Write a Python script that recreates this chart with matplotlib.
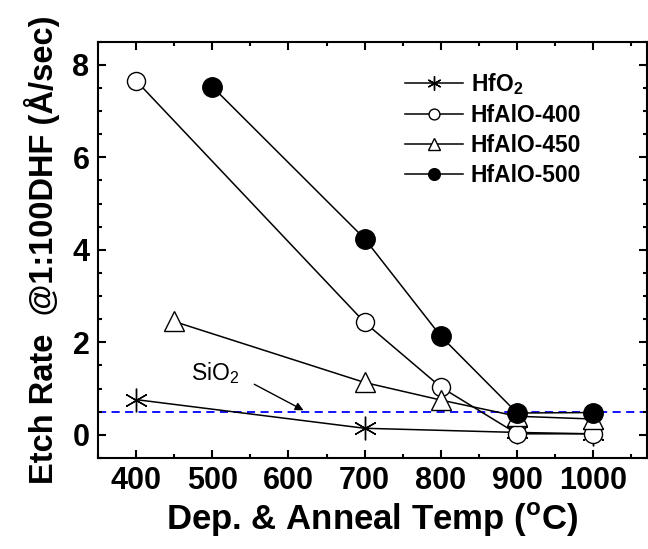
import matplotlib
matplotlib.use("Agg")
import matplotlib.pyplot as plt
from matplotlib.ticker import MultipleLocator

plt.rcParams['font.family'] = ['Liberation Sans', 'DejaVu Sans']
plt.rcParams['mathtext.fontset'] = 'custom'
plt.rcParams['mathtext.rm'] = 'Liberation Sans'
plt.rcParams['mathtext.bf'] = 'Liberation Sans:bold'

# data
temp_hfo2 = [400, 700, 900, 1000]
rate_hfo2 = [0.76, 0.14, 0.05, 0.02]

temp_400 = [400, 700, 800, 900, 1000]
rate_400 = [7.66, 2.43, 1.03, 0.02, 0.02]

temp_450 = [450, 700, 800, 900, 1000]
rate_450 = [2.45, 1.13, 0.75, 0.40, 0.34]

temp_500 = [500, 700, 800, 900, 1000]
rate_500 = [7.53, 4.24, 2.13, 0.47, 0.48]

sio2_rate = 0.5

fig = plt.figure(figsize=(6.48, 5.49), dpi=100)
ax = fig.add_axes([0.151, 0.166, 0.847, 0.758])

lw = 1.1
ax.axhline(sio2_rate, color='blue', ls='--', lw=1.3, dashes=(4.5, 3), zorder=1)

ax.plot(temp_hfo2, rate_hfo2, color='black', lw=lw, marker=(6, 2, 0), ms=17,
        mew=1.0, label='HfO$_\\mathregular{2}$', zorder=2)
ax.plot(temp_400, rate_400, color='black', lw=lw, marker='o', ms=13,
        mfc='white', mec='black', mew=1.0, label='HfAlO-400', zorder=3)
ax.plot(temp_450, rate_450, color='black', lw=lw, marker='^', ms=15,
        mfc='white', mec='black', mew=1.0, label='HfAlO-450', zorder=3)
ax.plot(temp_500, rate_500, color='black', lw=lw, marker='o', ms=14,
        mfc='black', mec='black', mew=1.0, label='HfAlO-500', zorder=4)

ax.text(472, 1.34, 'SiO$_\\mathregular{2}$', fontsize=16.5, va='center', ha='left')
ax.annotate('', xy=(623, 0.5), xytext=(552, 1.12),
            arrowprops=dict(arrowstyle='-|>', color='black', lw=1.0,
                            mutation_scale=12))

ax.set_xlim(350, 1070)
ax.set_ylim(-0.5, 8.5)
ax.xaxis.set_major_locator(MultipleLocator(100))
ax.xaxis.set_minor_locator(MultipleLocator(50))
ax.yaxis.set_major_locator(MultipleLocator(2))
ax.yaxis.set_minor_locator(MultipleLocator(0.5))
ax.tick_params(which='both', direction='in', top=True, right=True, width=1.5)
ax.tick_params(which='major', length=6, labelsize=22, pad=6)
ax.tick_params(which='minor', length=3)
for lab in ax.get_xticklabels() + ax.get_yticklabels():
    lab.set_fontweight('bold')
for sp in ax.spines.values():
    sp.set_linewidth(1.5)

ax.set_xlabel('Dep. & Anneal Temp ($^\\mathbf{o}$C)', fontsize=25,
              fontweight='bold', labelpad=3)
ax.set_ylabel('Etch Rate  @1:100DHF (Å/sec)', fontsize=23.5,
              fontweight='bold', labelpad=9)

leg = ax.legend(loc='upper right', bbox_to_anchor=(0.918, 0.978), frameon=False,
                markerscale=0.6, handlelength=2.5, handletextpad=0.35,
                labelspacing=0.3, prop={'weight': 'bold', 'size': 16.5})

fig.savefig('out.png', dpi=100)
